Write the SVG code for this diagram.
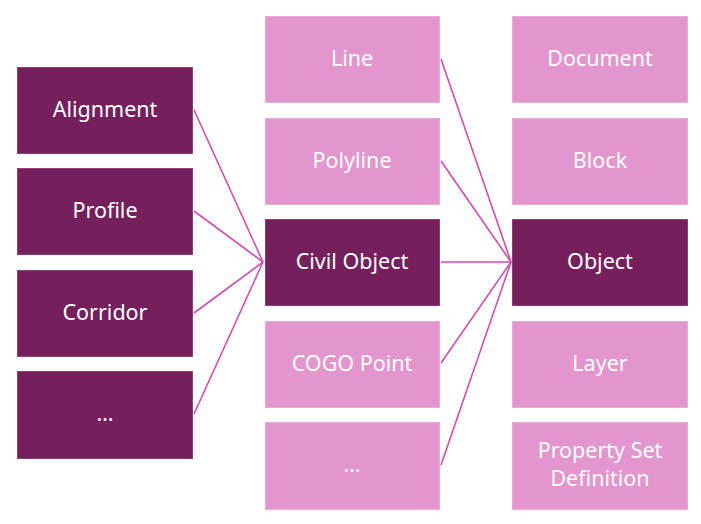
<svg xmlns="http://www.w3.org/2000/svg" width="701" height="524" viewBox="0 0 701 524">
<style>
.dk rect{fill:#751F5C;stroke:#8E3F7B;stroke-width:1}
.lt rect{fill:#E396CD;stroke:#EBAAD8;stroke-width:1}
text{font-family:"Noto Sans","Open Sans","Liberation Sans",sans-serif;font-size:21.5px;fill:#FFFFFF;text-anchor:middle;dominant-baseline:central}
.cn line{stroke:#D44BB0;stroke-width:1.6;fill:none}
</style>
<rect width="701" height="524" fill="#FFFFFF"/>
<g class="cn" id="connectors">
<line x1="194" y1="110" x2="263" y2="262"/>
<line x1="194" y1="211" x2="263" y2="262"/>
<line x1="194" y1="313" x2="263" y2="262"/>
<line x1="194" y1="414" x2="263" y2="262"/>
<line x1="441" y1="59" x2="511" y2="262"/>
<line x1="441" y1="161" x2="511" y2="262"/>
<line x1="441" y1="262" x2="511" y2="262"/>
<line x1="441" y1="363" x2="511" y2="262"/>
<line x1="441" y1="465" x2="511" y2="262"/>
</g>
<g id="alignment" class="dk"><rect x="17.5" y="67.5" width="175" height="86"/><text x="105" y="108">Alignment</text></g>
<g id="profile" class="dk"><rect x="17.5" y="168.5" width="175" height="86"/><text x="105" y="209">Profile</text></g>
<g id="corridor" class="dk"><rect x="17.5" y="270.5" width="175" height="86"/><text x="105" y="311">Corridor</text></g>
<g id="more-left" class="dk"><rect x="17.5" y="371.5" width="175" height="87"/><text x="105" y="412">…</text></g>
<g id="line" class="lt"><rect x="265.5" y="16.5" width="174" height="86"/><text x="352" y="57">Line</text></g>
<g id="polyline" class="lt"><rect x="265.5" y="118.5" width="174" height="86"/><text x="352" y="159">Polyline</text></g>
<g id="civil-object" class="dk"><rect x="265.5" y="219.5" width="174" height="86"/><text x="352" y="260">Civil Object</text></g>
<g id="cogo-point" class="lt"><rect x="265.5" y="321.5" width="174" height="86"/><text x="352" y="362">COGO Point</text></g>
<g id="more-mid" class="lt"><rect x="265.5" y="422.5" width="174" height="87"/><text x="352" y="463">…</text></g>
<g id="document" class="lt"><rect x="512.5" y="16.5" width="175" height="86"/><text x="600" y="57">Document</text></g>
<g id="block" class="lt"><rect x="512.5" y="118.5" width="175" height="86"/><text x="600" y="159">Block</text></g>
<g id="object" class="dk"><rect x="512.5" y="219.5" width="175" height="86"/><text x="600" y="260">Object</text></g>
<g id="layer" class="lt"><rect x="512.5" y="321.5" width="175" height="86"/><text x="600" y="362">Layer</text></g>
<g id="property-set-definition" class="lt"><rect x="512.5" y="422.5" width="175" height="87"/><text x="600" y="449">Property Set</text><text x="600" y="477">Definition</text></g>
</svg>
